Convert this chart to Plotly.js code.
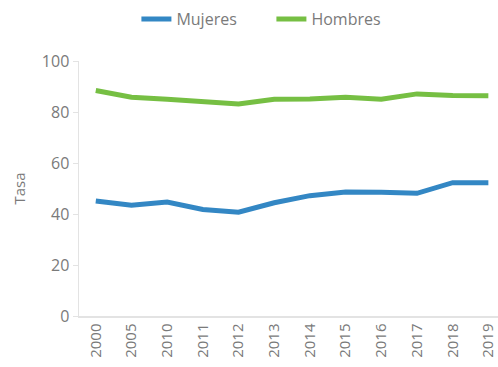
<!DOCTYPE html>
<html><head><meta charset="utf-8">
<script src="https://cdn.plot.ly/plotly-3.0.1.min.js"></script>
<style>html,body{margin:0;padding:0;background:#fff}#chart{width:498px;height:367px}</style>
</head><body><div id="chart"></div>
<script>
const years = ["2000","2005","2010","2011","2012","2013","2014","2015","2016","2017","2018","2019"];
const mujeres = [45.1,43.4,44.7,41.8,40.7,44.4,47.2,48.6,48.5,48.1,52.3,52.3];
const hombres = [88.4,85.8,85.0,83.9,83.1,85.0,85.1,85.8,85.0,87.1,86.5,86.4];
const yTicks = [0,20,40,60,80,100];

const traces = [
  {x: years, y: mujeres, name: "Mujeres", type: "scatter", mode: "lines",
   line: {color: "#3387c4", width: 5}},
  {x: years, y: hombres, name: "Hombres", type: "scatter", mode: "lines",
   line: {color: "#76bf43", width: 5}}
];
const layout = {
  width: 498, height: 367,
  margin: {l: 79, r: 0, t: 61, b: 51, autoexpand: false},
  paper_bgcolor: "#fff", plot_bgcolor: "#fff",
  font: {family: "Open Sans, sans-serif", color: "#7a7a7a", size: 15},
  showlegend: true,
  legend: {orientation: "h", xref: "container", yref: "container",
           x: 0.545, xanchor: "center", y: 0.948, yanchor: "middle",
           font: {size: 16, color: "#7a7a7a"}, entrywidth: 90, tracegroupgap: 0},
  xaxis: {type: "category", range: [-0.47, 11.27], showgrid: false, zeroline: false,
          showline: true, linecolor: "#e3e3e3", linewidth: 1.5, ticks: "",
          tickangle: -90, tickfont: {size: 15, color: "#7a7a7a"}, fixedrange: true},
  yaxis: {range: [0, 100], tickvals: yTicks, showgrid: false, zeroline: false,
          showline: true, linecolor: "#e3e3e3", linewidth: 1.5, ticks: "outside",
          ticklen: 5, tickcolor: "#e3e3e3", tickfont: {size: 16, color: "#7a7a7a"},
          title: {text: "Tasa", font: {size: 15, color: "#7a7a7a"}, standoff: 12}}
};
Plotly.newPlot("chart", traces, layout, {displayModeBar: false, staticPlot: true});
</script></body></html>
